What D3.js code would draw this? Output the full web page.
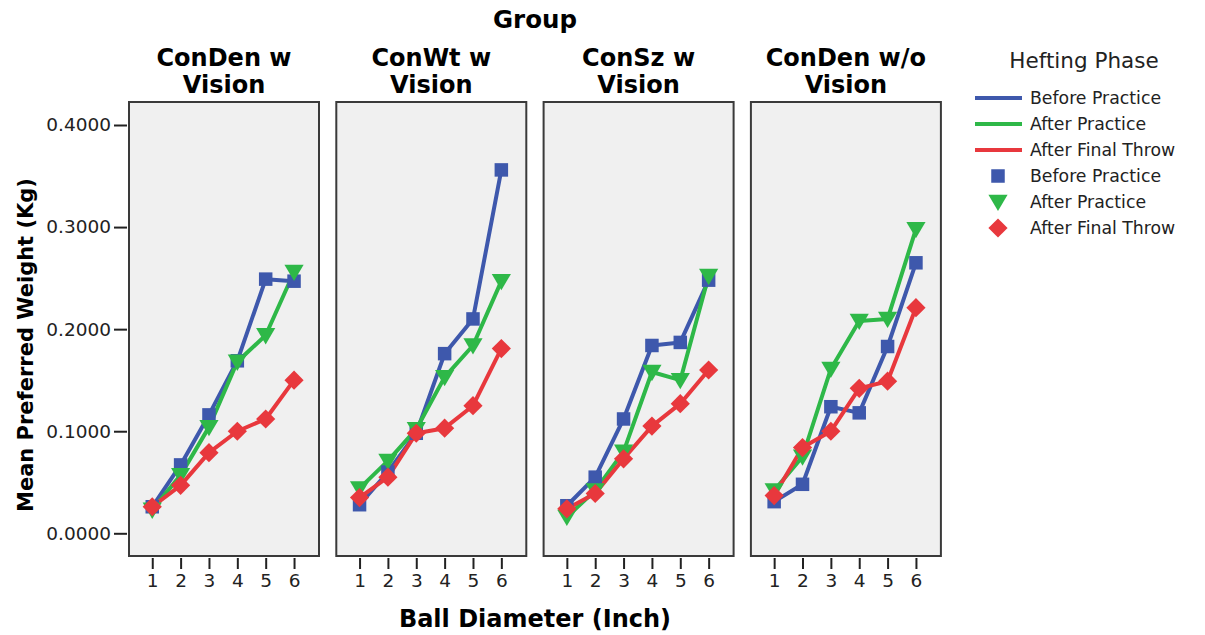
<!DOCTYPE html>
<html>
<head>
<meta charset="utf-8">
<script src="https://cdn.jsdelivr.net/npm/d3@7"></script>
<style>
  html, body { margin: 0; padding: 0; background: #fff; }
  svg { display: block; font-family: "DejaVu Sans", Verdana, sans-serif; }
</style>
</head>
<body>
<div id="chart"></div>
<script>
const groups = ["ConDen w|Vision", "ConWt w|Vision", "ConSz w|Vision", "ConDen w/o|Vision"];
const diameters = [1, 2, 3, 4, 5, 6];
const yTicks = [0, 0.1, 0.2, 0.3, 0.4];
const phases = ["Before Practice", "After Practice", "After Final Throw"];

// one row per group, one value per ball diameter
const beforePractice = [
  [0.026, 0.067, 0.116, 0.169, 0.249, 0.247],
  [0.028, 0.060, 0.098, 0.176, 0.210, 0.356],
  [0.027, 0.055, 0.112, 0.184, 0.187, 0.248],
  [0.031, 0.048, 0.124, 0.118, 0.183, 0.265]
];
const afterPractice = [
  [0.023, 0.057, 0.104, 0.168, 0.194, 0.256],
  [0.044, 0.071, 0.102, 0.153, 0.184, 0.247],
  [0.016, 0.042, 0.080, 0.158, 0.150, 0.252],
  [0.042, 0.075, 0.161, 0.208, 0.210, 0.298]
];
const afterFinalThrow = [
  [0.026, 0.047, 0.079, 0.100, 0.112, 0.150],
  [0.035, 0.055, 0.098, 0.103, 0.125, 0.181],
  [0.024, 0.039, 0.073, 0.105, 0.127, 0.160],
  [0.037, 0.084, 0.100, 0.142, 0.149, 0.221]
];

const COLORS = ["#3e58ac", "#2eb848", "#e8383d"];
const SYMBOLS = ["square", "triangle", "diamond"];
const W = 1205, H = 635;
const PANEL = { left: 129, top: 102, width: 190, height: 454, gap: 17.3 };
const FONT = "DejaVu Sans, Verdana, sans-serif";

const series = [beforePractice, afterPractice, afterFinalThrow];

const svg = d3.select("#chart").append("svg")
  .attr("width", W).attr("height", H)
  .attr("viewBox", `0 0 ${W} ${H}`);

const y = d3.scaleLinear()
  .domain([0, 0.4])
  .range([PANEL.top + 431.3, PANEL.top + 23]);

const x = d3.scaleLinear()
  .domain([0.18, 6.88])
  .range([0, PANEL.width]);

function marker(sel, kind, size) {
  if (kind === "square") {
    sel.append("rect").attr("x", -size / 2).attr("y", -size / 2)
      .attr("width", size).attr("height", size);
  } else if (kind === "triangle") {
    const s = size * 0.6;
    sel.append("path").attr("d", `M${-s},${-s * 0.75}L${s},${-s * 0.75}L0,${s * 0.95}Z`);
  } else {
    const s = size * 0.6;
    sel.append("path").attr("d", `M0,${-s}L${s},0L0,${s}L${-s},0Z`);
  }
}

const midX = PANEL.left + (4 * PANEL.width + 3 * PANEL.gap) / 2;

// super title
svg.append("text")
  .attr("x", midX).attr("y", 28)
  .attr("text-anchor", "middle")
  .attr("font-size", "24.5px").attr("font-weight", "bold")
  .text("Group");

groups.forEach((g, gi) => {
  const px = PANEL.left + gi * (PANEL.width + PANEL.gap);
  const panel = svg.append("g").attr("transform", `translate(${px},0)`);

  // two-line facet title
  g.split("|").forEach((t, li) => {
    panel.append("text")
      .attr("x", PANEL.width / 2).attr("y", 66 + li * 27)
      .attr("text-anchor", "middle")
      .attr("font-size", "24px").attr("font-weight", "bold")
      .text(t);
  });

  panel.append("rect")
    .attr("x", 0).attr("y", PANEL.top)
    .attr("width", PANEL.width).attr("height", PANEL.height)
    .attr("fill", "#f0f0f0")
    .attr("stroke", "#3a3a3a").attr("stroke-width", 2);

  // x axis
  const xAxis = d3.axisBottom(x).tickValues(diameters).tickFormat(d3.format("d"))
    .tickSize(11).tickPadding(5);
  const xg = panel.append("g")
    .attr("transform", `translate(0,${PANEL.top + PANEL.height + 2})`)
    .call(xAxis);
  xg.select(".domain").remove();
  xg.selectAll(".tick line").attr("stroke", "#222").attr("stroke-width", 2);
  xg.selectAll(".tick text").attr("font-size", "18.5px").attr("fill", "#222")
    .attr("font-family", FONT);

  const line = d3.line()
    .x((d, i) => x(diameters[i]))
    .y(d => y(d));

  series.forEach((s, si) => {
    panel.append("path")
      .attr("d", line(s[gi]))
      .attr("fill", "none")
      .attr("stroke", COLORS[si])
      .attr("stroke-width", 4)
      .attr("stroke-linejoin", "round");
  });

  series.forEach((s, si) => {
    panel.append("g").selectAll("g")
      .data(s[gi])
      .join("g")
      .attr("transform", (d, i) => `translate(${x(diameters[i])},${y(d)})`)
      .attr("fill", COLORS[si])
      .each(function () { marker(d3.select(this), SYMBOLS[si], si === 0 ? 13.5 : 16); });
  });
});

// y axis
const yAxis = d3.axisLeft(y).tickValues(yTicks).tickSize(13).tickPadding(3)
  .tickFormat(d3.format(".4f"));
const yg = svg.append("g")
  .attr("transform", `translate(${PANEL.left - 2},0)`)
  .call(yAxis);
yg.select(".domain").remove();
yg.selectAll(".tick line").attr("stroke", "#222").attr("stroke-width", 2);
yg.selectAll(".tick text").attr("font-size", "18.5px").attr("fill", "#222")
  .attr("font-family", FONT);

svg.append("text")
  .attr("transform", `translate(33,345) rotate(-90)`)
  .attr("text-anchor", "middle")
  .attr("font-size", "21px").attr("font-weight", "bold")
  .text("Mean Preferred Weight (Kg)");

svg.append("text")
  .attr("x", midX).attr("y", 627)
  .attr("text-anchor", "middle")
  .attr("font-size", "24px").attr("font-weight", "bold")
  .text("Ball Diameter (Inch)");

// legend
const legend = svg.append("g").attr("transform", "translate(975,0)");
legend.append("text")
  .attr("x", 109).attr("y", 68)
  .attr("text-anchor", "middle")
  .attr("font-size", "21.5px")
  .attr("fill", "#222")
  .text("Hefting Phase");

const rowY = [98, 124, 150, 176, 202, 228];
phases.forEach((p, i) => {
  const ly = rowY[i];
  legend.append("line")
    .attr("x1", 0).attr("x2", 47).attr("y1", ly).attr("y2", ly)
    .attr("stroke", COLORS[i]).attr("stroke-width", 4);
  legend.append("text")
    .attr("x", 55).attr("y", ly + 6)
    .attr("font-size", "17.3px").attr("fill", "#222")
    .text(p);
});
phases.forEach((p, i) => {
  const ly = rowY[i + 3];
  const m = legend.append("g")
    .attr("transform", `translate(23,${ly})`)
    .attr("fill", COLORS[i]);
  marker(m, SYMBOLS[i], i === 0 ? 13.5 : 16);
  legend.append("text")
    .attr("x", 55).attr("y", ly + 6)
    .attr("font-size", "17.3px").attr("fill", "#222")
    .text(p);
});
</script>
</body>
</html>
